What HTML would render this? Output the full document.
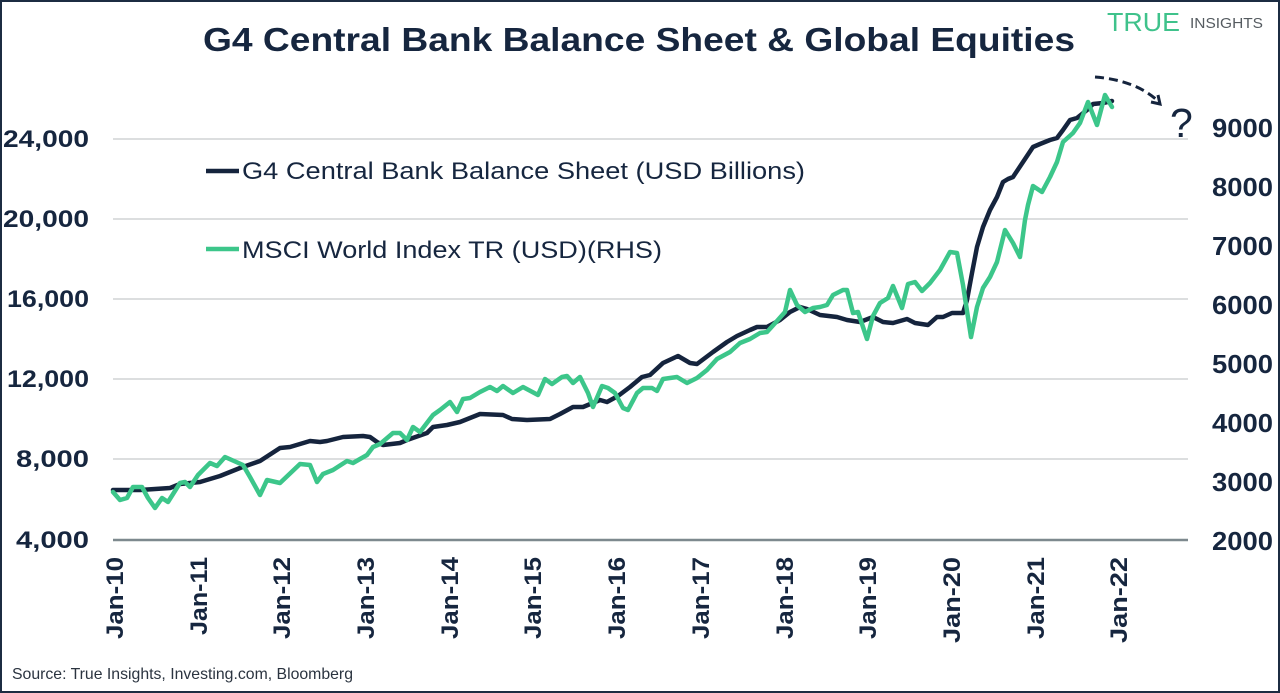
<!DOCTYPE html>
<html>
<head>
<meta charset="utf-8">
<style>
html,body{margin:0;padding:0;background:#fff;}
svg{display:block;}
text{font-family:"Liberation Sans",Arial,sans-serif;}
</style>
</head>
<body>
<svg width="1280" height="693" viewBox="0 0 1280 693" xmlns="http://www.w3.org/2000/svg">
<rect x="0" y="0" width="1280" height="693" fill="#ffffff"/>
<rect x="1" y="1" width="1278" height="691" fill="none" stroke="#1c2c42" stroke-width="2"/>

<!-- Title -->
<text x="203" y="51" font-size="33" font-weight="bold" fill="#16263f" textLength="872" lengthAdjust="spacingAndGlyphs">G4 Central Bank Balance Sheet &amp; Global Equities</text>

<!-- Logo -->
<text x="1107" y="31" font-size="26" fill="#3fc28b" textLength="73" lengthAdjust="spacingAndGlyphs">TRUE</text>
<text x="1190" y="28" font-size="15" fill="#555b60" textLength="73" lengthAdjust="spacingAndGlyphs">INSIGHTS</text>

<!-- Gridlines -->
<g stroke="#c8cacc" stroke-width="1.2">
<line x1="113" y1="139" x2="1188" y2="139"/>
<line x1="113" y1="219" x2="1188" y2="219"/>
<line x1="113" y1="299" x2="1188" y2="299"/>
<line x1="113" y1="379" x2="1188" y2="379"/>
<line x1="113" y1="459" x2="1188" y2="459"/>
</g>
<line x1="113" y1="540" x2="1188" y2="540" stroke="#7d898e" stroke-width="2.5"/>

<!-- Left axis labels -->
<g font-size="24" font-weight="bold" fill="#16263f" text-anchor="end">
<text x="89" y="147" textLength="86" lengthAdjust="spacingAndGlyphs">24,000</text>
<text x="89" y="227" textLength="86" lengthAdjust="spacingAndGlyphs">20,000</text>
<text x="89" y="307" textLength="82" lengthAdjust="spacingAndGlyphs">16,000</text>
<text x="89" y="387" textLength="82" lengthAdjust="spacingAndGlyphs">12,000</text>
<text x="89" y="467" textLength="73" lengthAdjust="spacingAndGlyphs">8,000</text>
<text x="89" y="548" textLength="73" lengthAdjust="spacingAndGlyphs">4,000</text>
</g>

<!-- Right axis labels -->
<g font-size="26" font-weight="bold" fill="#16263f">
<text x="1212" y="137" textLength="61" lengthAdjust="spacingAndGlyphs">9000</text>
<text x="1212" y="196" textLength="61" lengthAdjust="spacingAndGlyphs">8000</text>
<text x="1212" y="255" textLength="61" lengthAdjust="spacingAndGlyphs">7000</text>
<text x="1212" y="314" textLength="61" lengthAdjust="spacingAndGlyphs">6000</text>
<text x="1212" y="373" textLength="61" lengthAdjust="spacingAndGlyphs">5000</text>
<text x="1212" y="432" textLength="61" lengthAdjust="spacingAndGlyphs">4000</text>
<text x="1212" y="491" textLength="61" lengthAdjust="spacingAndGlyphs">3000</text>
<text x="1212" y="550" textLength="61" lengthAdjust="spacingAndGlyphs">2000</text>
</g>

<!-- X axis labels -->
<g font-size="24" font-weight="bold" fill="#16263f" text-anchor="end">
<text transform="translate(123,557) rotate(-90)" textLength="82" lengthAdjust="spacingAndGlyphs">Jan-10</text>
<text transform="translate(207,557) rotate(-90)" textLength="78" lengthAdjust="spacingAndGlyphs">Jan-11</text>
<text transform="translate(290,557) rotate(-90)" textLength="82" lengthAdjust="spacingAndGlyphs">Jan-12</text>
<text transform="translate(374,557) rotate(-90)" textLength="82" lengthAdjust="spacingAndGlyphs">Jan-13</text>
<text transform="translate(458,557) rotate(-90)" textLength="82" lengthAdjust="spacingAndGlyphs">Jan-14</text>
<text transform="translate(541,557) rotate(-90)" textLength="82" lengthAdjust="spacingAndGlyphs">Jan-15</text>
<text transform="translate(625,557) rotate(-90)" textLength="82" lengthAdjust="spacingAndGlyphs">Jan-16</text>
<text transform="translate(709,557) rotate(-90)" textLength="82" lengthAdjust="spacingAndGlyphs">Jan-17</text>
<text transform="translate(793,557) rotate(-90)" textLength="82" lengthAdjust="spacingAndGlyphs">Jan-18</text>
<text transform="translate(876,557) rotate(-90)" textLength="82" lengthAdjust="spacingAndGlyphs">Jan-19</text>
<text transform="translate(960,557) rotate(-90)" textLength="86" lengthAdjust="spacingAndGlyphs">Jan-20</text>
<text transform="translate(1044,557) rotate(-90)" textLength="82" lengthAdjust="spacingAndGlyphs">Jan-21</text>
<text transform="translate(1127,557) rotate(-90)" textLength="86" lengthAdjust="spacingAndGlyphs">Jan-22</text>
</g>

<!-- Legend -->
<line x1="206" y1="171" x2="239" y2="171" stroke="#15243d" stroke-width="4.5"/>
<text x="242" y="179" font-size="24" fill="#16263f" textLength="563" lengthAdjust="spacingAndGlyphs">G4 Central Bank Balance Sheet (USD Billions)</text>
<line x1="206" y1="249" x2="239" y2="249" stroke="#3cc68a" stroke-width="4.5"/>
<text x="242" y="258" font-size="24" fill="#16263f" textLength="420" lengthAdjust="spacingAndGlyphs">MSCI World Index TR (USD)(RHS)</text>

<!-- Navy series -->
<polyline fill="none" stroke="#15243d" stroke-width="4.5" stroke-linejoin="round" stroke-linecap="round" points="
113,490 140,490 170,488 180,484 200,482 220,476 240,468 260,461 280,448 290,447 300,444 310,441 320,442 327,441 343,437 363,436 370,437 377,442 383,445 400,443 407,440 427,433 433,427 447,425 460,422 480,414 503,415 512,419 527,420 550,419 560,414 573,407 583,407 600,400 607,402 618,396 630,387 642,377 650,375 663,363 678,356 690,363 697,364 713,352 727,342 737,336 750,330 757,327 767,327 780,320 790,312 800,307 807,309 820,315 837,317 847,320 860,322 873,317 883,322 893,323 907,319 915,323 928,325 937,317 943,317 952,313 963,313 967,300 972,273 977,247 983,227 990,210 997,197 1003,182 1008,179 1013,177 1023,162 1033,147 1040,144 1050,140 1057,138 1063,130 1070,120 1077,118 1087,110 1093,104 1103,103 1112,101"/>

<!-- Green series -->
<polyline fill="none" stroke="#3cc68a" stroke-width="4.5" stroke-linejoin="round" stroke-linecap="round" points="
113,492 120,500 127,498 133,487 142,487 148,498 155,508 162,498 168,502 180,483 185,482 190,487 198,475 210,463 217,466 225,457 243,465 250,477 260,495 267,480 280,483 300,464 310,465 317,482 323,474 333,470 347,461 353,463 367,455 373,447 380,444 393,433 400,433 407,440 413,427 420,432 433,415 440,410 450,402 457,412 463,399 470,398 480,392 490,387 497,391 503,386 513,393 523,387 538,395 545,379 552,384 562,377 567,376 573,383 580,377 588,393 593,407 602,386 608,388 615,393 623,408 628,410 637,393 643,388 652,388 657,391 663,379 677,377 687,383 697,378 707,370 717,359 730,352 740,343 750,339 760,333 767,332 777,321 785,312 790,290 797,305 805,312 813,308 820,307 827,305 833,295 843,290 847,290 853,313 858,312 867,339 873,316 880,303 888,298 893,286 902,308 908,284 915,282 922,291 930,283 940,270 950,252 957,253 963,285 971,337 977,307 983,288 990,277 997,262 1005,230 1013,243 1020,257 1025,220 1028,205 1033,186 1042,192 1050,177 1057,162 1063,142 1073,133 1080,123 1088,102 1097,125 1105,95 1112,107"/>

<!-- Dashed arrow -->
<path d="M1095,77 Q1135,80 1158,101" fill="none" stroke="#15243d" stroke-width="3" stroke-dasharray="9 5"/>
<polyline points="1151,102 1160,104 1158,95" fill="none" stroke="#15243d" stroke-width="3" stroke-linejoin="miter"/>
<text x="1170" y="137" font-size="41" fill="#16263f">?</text>

<!-- Source -->
<text x="12" y="679" font-size="16" fill="#2b3440" textLength="341" lengthAdjust="spacingAndGlyphs">Source: True Insights, Investing.com, Bloomberg</text>
</svg>
</body>
</html>
